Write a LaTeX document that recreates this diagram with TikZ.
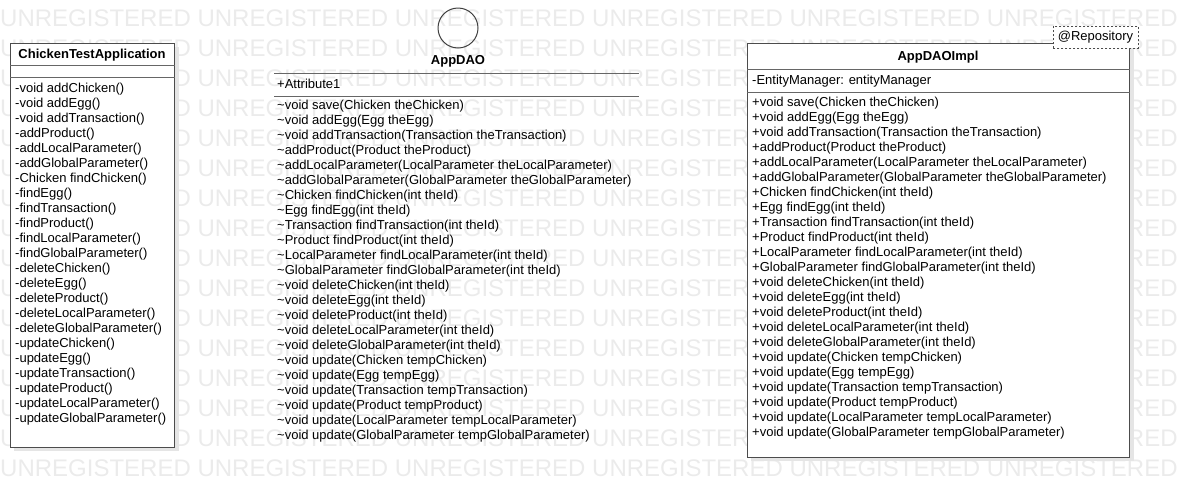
\documentclass[tikz,border=0pt]{standalone}
\usepackage{fontspec}
\setmainfont{Liberation Sans}

\tikzset{
  watermark/.style={anchor=base west, inner sep=0pt, text=black!8, font=\fontsize{24}{24}\selectfont},
  member/.style={anchor=base west, inner sep=0pt, font=\fontsize{13}{15}\selectfont},
  classname/.style={anchor=base, inner sep=0pt, font=\fontsize{13}{15}\selectfont\bfseries},
  frame/.style={draw=black!70, line width=1pt, fill=white},
  shade/.style={fill=black!10, draw=none},
  sep/.style={draw=black!60, line width=1pt},
}

\begin{document}
\begin{tikzpicture}[x=1pt,y=-1pt,line cap=rect]
\clip (0,0) rectangle (1179,499);

% watermark rows
\foreach \k in {0,...,15}
  \node[watermark] (wm\k) at (0,{26+30*\k}) {UNREGISTERED UNREGISTERED UNREGISTERED UNREGISTERED UNREGISTERED UNREGISTERED};

% ChickenTestApplication
\fill[shade] (14,47) rectangle (179,451);
\draw[frame] (10,43) rectangle (174,447);
\draw[sep] (10,65) -- (174,65);
\draw[sep] (10,77) -- (174,77);
\node[classname] (cta) at (92,58.5) {ChickenTestApplication};
\foreach \m [count=\i from 0] in {-void addChicken(), -void addEgg(), -void addTransaction(),
    -addProduct(), -addLocalParameter(), -addGlobalParameter(), -Chicken findChicken(),
    -findEgg(), -findTransaction(), -findProduct(), -findLocalParameter(),
    -findGlobalParameter(), -deleteChicken(), -deleteEgg(), -deleteProduct(),
    -deleteLocalParameter(), -deleteGlobalParameter(), -updateChicken(), -updateEgg(),
    -updateTransaction(), -updateProduct(), -updateLocalParameter(), -updateGlobalParameter()}
  \node[member] (cta\i) at (15,{92.5+15*\i}) {\m};

% AppDAO interface (package visibility, ~ added in front)
\node[draw=black!75, line width=1pt, circle, minimum size=40pt, inner sep=0pt] (dao) at (458,28) {};
\node[classname] (daoname) at (458,64.5) {AppDAO};
\draw[sep] (274,73) -- (638,73);
\node[member] (daoattr) at (277,88.5) {+Attribute1};
\draw[sep] (274,96) -- (638,96);
\foreach \m [count=\i from 0] in {void save(Chicken theChicken), void addEgg(Egg theEgg),
    void addTransaction(Transaction theTransaction), addProduct(Product theProduct),
    addLocalParameter(LocalParameter theLocalParameter),
    addGlobalParameter(GlobalParameter theGlobalParameter),
    Chicken findChicken(int theId), Egg findEgg(int theId),
    Transaction findTransaction(int theId), Product findProduct(int theId),
    LocalParameter findLocalParameter(int theId),
    GlobalParameter findGlobalParameter(int theId),
    void deleteChicken(int theId), void deleteEgg(int theId),
    void deleteProduct(int theId), void deleteLocalParameter(int theId),
    void deleteGlobalParameter(int theId), void update(Chicken tempChicken),
    void update(Egg tempEgg), void update(Transaction tempTransaction),
    void update(Product tempProduct), void update(LocalParameter tempLocalParameter),
    void update(GlobalParameter tempGlobalParameter)}
  \node[member] (dao\i) at (277,{109.5+15*\i}) {\textasciitilde\m};

% AppDAOImpl
\fill[shade] (751,47) rectangle (1134,461);
\draw[frame] (747,43) rectangle (1129,457);
\draw[sep] (747,69) -- (1129,69);
\draw[sep] (747,92) -- (1129,92);
\node[classname] (impl) at (938,60.5) {AppDAOImpl};
\node[member] (implattr) at (752,84.5) {-EntityManager: entityManager};
\foreach \m [count=\i from 0] in {+void save(Chicken theChicken), +void addEgg(Egg theEgg),
    +void addTransaction(Transaction theTransaction), +addProduct(Product theProduct),
    +addLocalParameter(LocalParameter theLocalParameter),
    +addGlobalParameter(GlobalParameter theGlobalParameter),
    +Chicken findChicken(int theId), +Egg findEgg(int theId),
    +Transaction findTransaction(int theId), +Product findProduct(int theId),
    +LocalParameter findLocalParameter(int theId),
    +GlobalParameter findGlobalParameter(int theId),
    +void deleteChicken(int theId), +void deleteEgg(int theId),
    +void deleteProduct(int theId), +void deleteLocalParameter(int theId),
    +void deleteGlobalParameter(int theId), +void update(Chicken tempChicken),
    +void update(Egg tempEgg), +void update(Transaction tempTransaction),
    +void update(Product tempProduct), +void update(LocalParameter tempLocalParameter),
    +void update(GlobalParameter tempGlobalParameter)}
  \node[member] (impl\i) at (752,{106.5+15*\i}) {\m};

% stereotype tag
\node[draw=black!70, dash pattern=on 2pt off 2pt, fill=white, inner sep=0pt,
      minimum width=85pt, minimum height=22pt, font=\fontsize{13}{15}\selectfont] (repo) at (1095.5,37) {@Repository};
\end{tikzpicture}
\end{document}
